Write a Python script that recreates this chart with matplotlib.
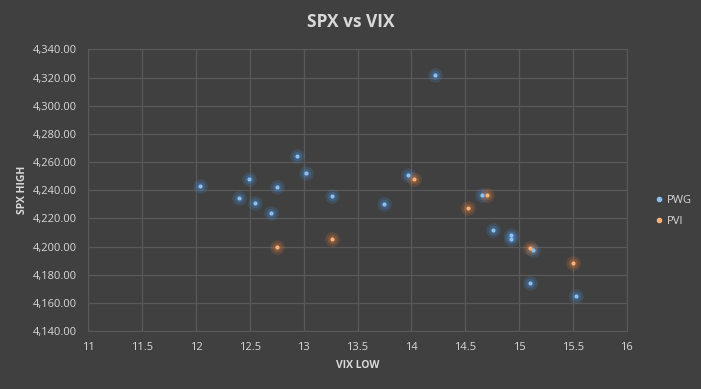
import matplotlib
matplotlib.use("Agg")
import matplotlib.pyplot as plt
from matplotlib.ticker import FuncFormatter, MultipleLocator
from matplotlib.lines import Line2D

# data
pwg_vix = [12.04, 12.40, 12.49, 12.55, 12.70, 12.75, 12.94, 13.02, 13.26, 13.75,
           13.97, 14.22, 14.66, 14.76, 14.93, 14.93, 15.13, 15.10, 15.53]
pwg_spx = [4243.2, 4234.6, 4248.0, 4231.0, 4224.0, 4242.0, 4264.5, 4252.4, 4236.0, 4230.4,
           4251.0, 4322.0, 4236.6, 4211.7, 4208.4, 4205.3, 4197.5, 4174.0, 4164.8]
pvi_vix = [12.75, 13.26, 14.02, 14.53, 14.70, 15.10, 15.50]
pvi_spx = [4200.0, 4205.3, 4248.0, 4227.3, 4236.6, 4199.2, 4188.5]

BG = "#404040"
GRID = "#595959"
TXT = "#d9d9d9"
BLUE = "#8cc0f0"
BLUE_GLOW = "#4a90d9"
ORANGE = "#f7b27a"
ORANGE_GLOW = "#e07b39"

plt.rcParams["font.family"] = ["Open Sans", "DejaVu Sans"]

fig = plt.figure(figsize=(7.01, 3.89), dpi=100, facecolor=BG)
ax = fig.add_axes([0.126, 0.149, 0.768, 0.724], facecolor=BG)

# glow underneath, then the dot
for xs, ys, c, g in [(pwg_vix, pwg_spx, BLUE, BLUE_GLOW), (pvi_vix, pvi_spx, ORANGE, ORANGE_GLOW)]:
    ax.scatter(xs, ys, s=110, color=g, alpha=0.18, lw=0, zorder=2)
    ax.scatter(xs, ys, s=45, color=g, alpha=0.25, lw=0, zorder=2)
    ax.scatter(xs, ys, s=9, color=c, lw=0, zorder=3)

ax.set_xlim(11, 16)
ax.set_ylim(4140, 4340)
ax.xaxis.set_major_locator(MultipleLocator(0.5))
ax.yaxis.set_major_locator(MultipleLocator(20))
ax.xaxis.set_major_formatter(FuncFormatter(lambda v, p: f"{v:g}"))
ax.yaxis.set_major_formatter(FuncFormatter(lambda v, p: f"{v:,.2f}"))
ax.grid(True, color=GRID, lw=0.9)
ax.set_axisbelow(True)
for s in ax.spines.values():
    s.set_color(GRID)
ax.tick_params(colors=TXT, length=0, labelsize=8, pad=8)

ax.set_xlabel("VIX LOW", color=TXT, fontsize=7.5, fontweight="bold", labelpad=5)
ax.set_ylabel("SPX HIGH", color=TXT, fontsize=7.5, fontweight="bold", labelpad=4)
fig.text(0.5, 0.943, "SPX vs VIX", ha="center", va="center", color=TXT,
         fontsize=12.5, fontweight="bold")

handles = [Line2D([], [], ls="", marker="o", ms=3, color=BLUE),
           Line2D([], [], ls="", marker="o", ms=3, color=ORANGE)]
leg = fig.legend(handles, ["PWG", "PVI"], loc="center left", bbox_to_anchor=(0.918, 0.457),
                 frameon=False, fontsize=8, handletextpad=0.2, labelspacing=0.9,
                 handlelength=1.0)
for t in leg.get_texts():
    t.set_color(TXT)

fig.savefig("out.png", dpi=100, facecolor=BG)
